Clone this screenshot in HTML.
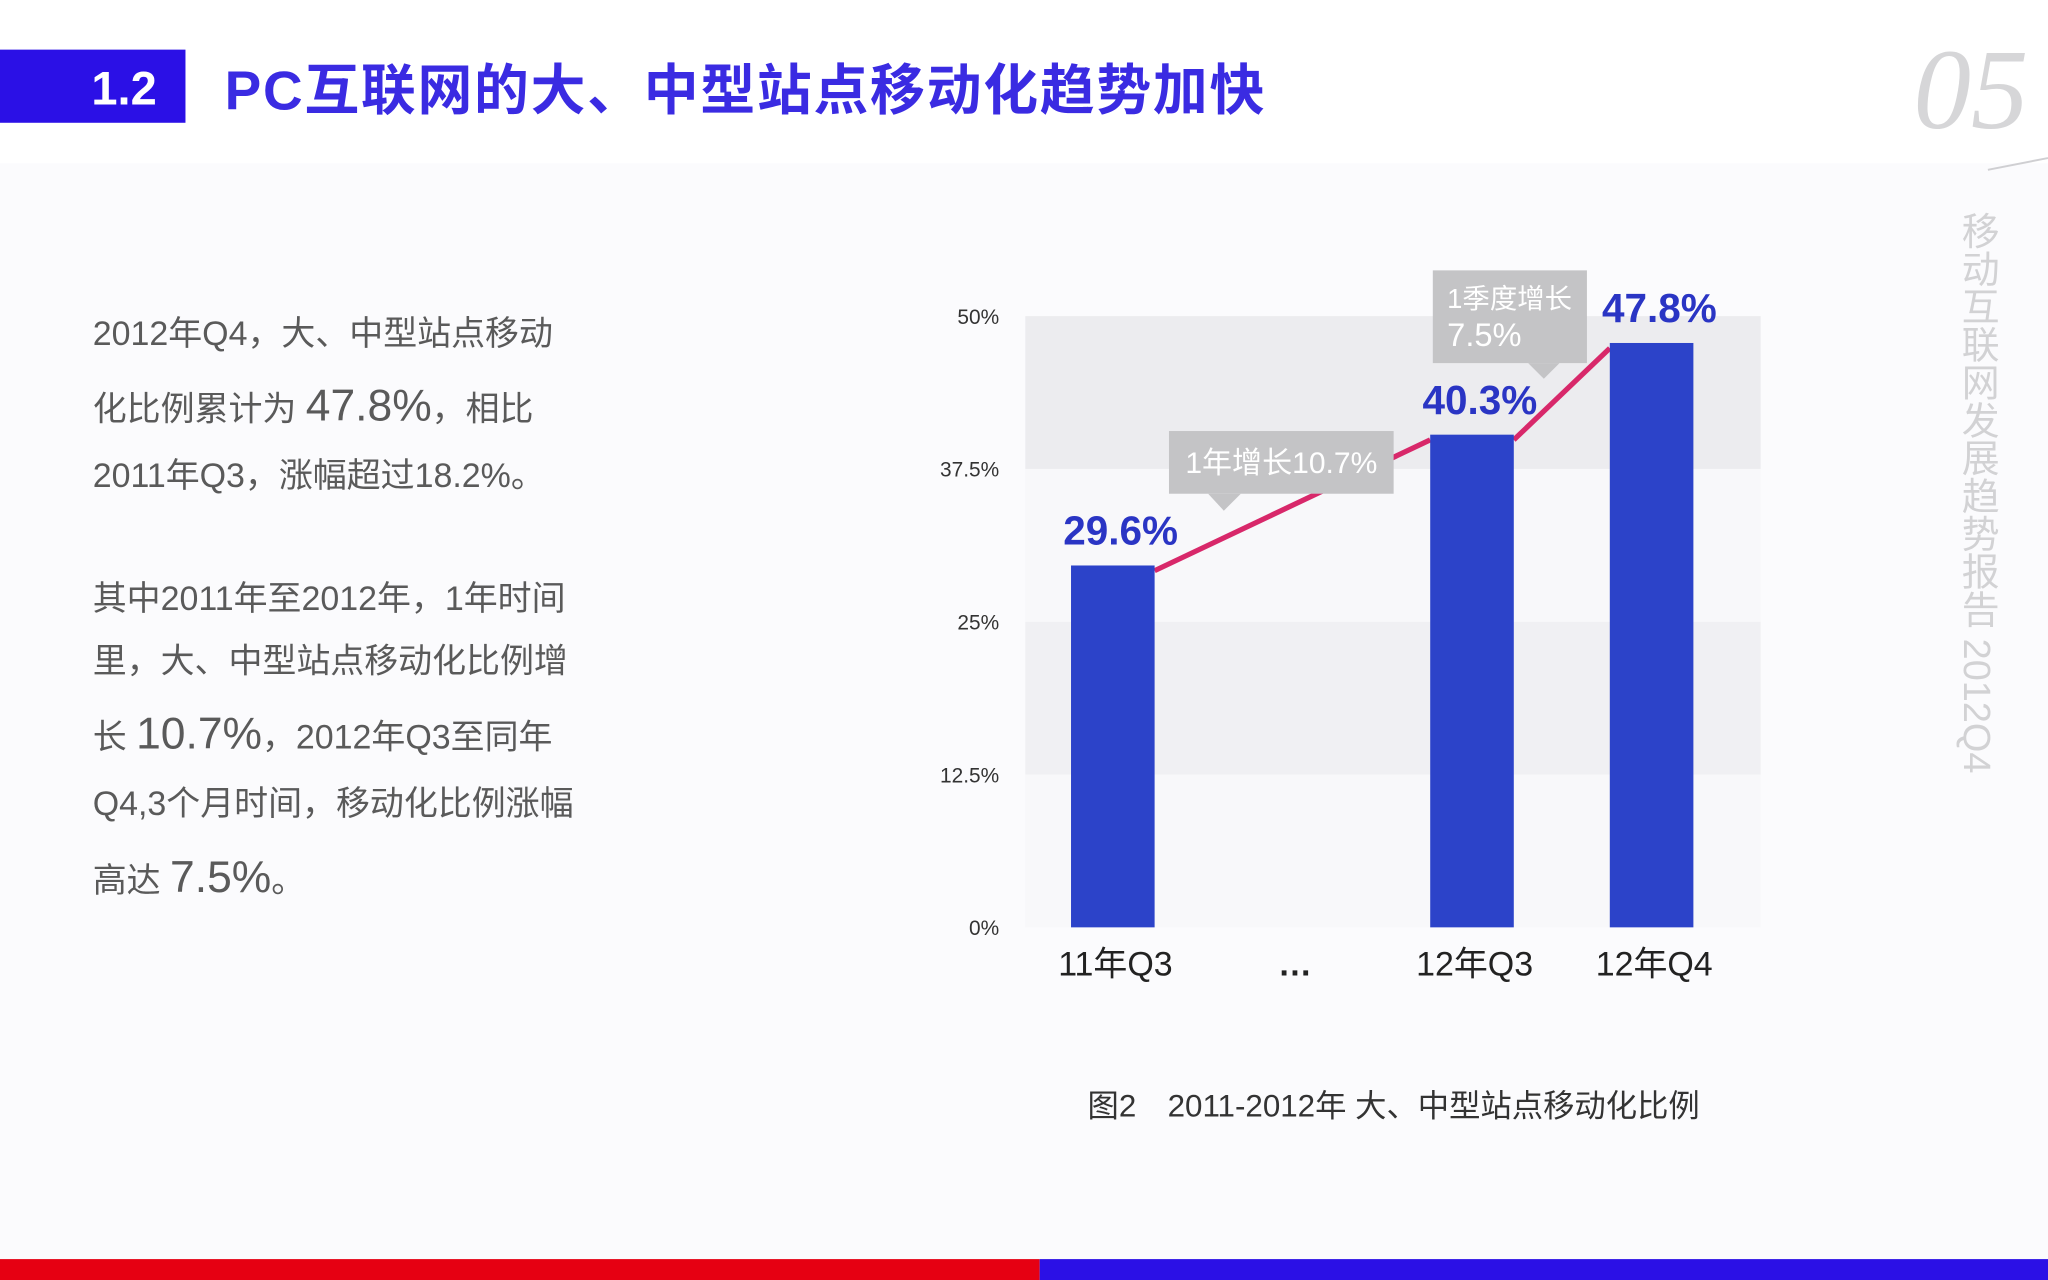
<!DOCTYPE html>
<html><head><meta charset="utf-8">
<style>
html,body{margin:0;padding:0;background:#fff;}
svg{display:block;}
text{font-family:"Liberation Sans","Noto Sans CJK SC",sans-serif;}
</style></head>
<body>
<svg id="root" width="2048" height="1280" viewBox="0 0 1568 980" xmlns="http://www.w3.org/2000/svg">
  <rect x="0" y="0" width="1568" height="980" fill="#ffffff"/>
  <rect x="0" y="125" width="1568" height="840" fill="#fbfbfd"/>
  <rect x="0" y="38" width="142" height="56" fill="#2b10e6"/>
  <text x="95" y="80" font-size="36" font-weight="bold" fill="#fff" text-anchor="middle">1.2</text>
  <text x="172" y="84" font-size="42" font-weight="bold" fill="#3a2be2" textLength="796">PC互联网的大、中型站点移动化趋势加快</text>
  <text x="1465" y="98" font-size="88" font-style="italic" fill="#d6d6d8" style="font-family:'Liberation Serif',serif">05</text>
  <line x1="1522" y1="130" x2="1568" y2="121" stroke="#cfcfd2" stroke-width="1.5"/>
  <text x="1513" y="162" font-size="29" fill="#d2d2d4" style="writing-mode:tb;glyph-orientation-vertical:0">移动互联网发展趋势报告 2012Q4</text>

  <g fill="#5a5a5a" font-size="26">
    <text x="71" y="264">2012年Q4，大、中型站点移动</text>
    <text x="71" y="322">化比例累计为 <tspan font-size="34">47.8%</tspan>，相比</text>
    <text x="71" y="373">2011年Q3，涨幅超过18.2%。</text>
    <text x="71" y="467">其中2011年至2012年，1年时间</text>
    <text x="71" y="515">里，大、中型站点移动化比例增</text>
    <text x="71" y="573">长 <tspan font-size="34">10.7%</tspan>，2012年Q3至同年</text>
    <text x="71" y="624">Q4,3个月时间，移动化比例涨幅</text>
    <text x="71" y="683">高达 <tspan font-size="34">7.5%</tspan>。</text>
  </g>

  <g id="chart"></g>

  <text x="1067" y="855" font-size="24" fill="#333" text-anchor="middle">图2　2011-2012年  大、中型站点移动化比例</text>
  <rect x="0" y="964" width="796" height="16" fill="#e60012"/>
  <rect x="796" y="964" width="772" height="16" fill="#2b10e6"/>
</svg>
<script>
const categories = ["11年Q3", "…", "12年Q3", "12年Q4"];
const values = [29.6, null, 40.3, 47.8];
const valueLabels = ["29.6%", "", "40.3%", "47.8%"];
const yTicks = [0, 12.5, 25, 37.5, 50];
const yTickLabels = ["0%", "12.5%", "25%", "37.5%", "50%"];
const callouts = ["1年增长10.7%", "1季度增长", "7.5%"];

const NS = "http://www.w3.org/2000/svg";
const g = document.getElementById("chart");
const plotL = 785, plotR = 1348, plotT = 242, plotB = 710, yMax = 50;
const y = v => plotB - v / yMax * (plotB - plotT);
const xc = i => 852 + i * 137.5;
const barW = 64;
function mk(tag, attrs, parent) {
  const e = document.createElementNS(NS, tag);
  for (const k in attrs) e.setAttribute(k, attrs[k]);
  (parent || g).appendChild(e);
  return e;
}
const bandFills = ["#f8f8fa", "#f0f0f3", "#f8f8fa", "#ececef"];
for (let i = 0; i < yTicks.length - 1; i++) {
  const r = mk("rect", {x: plotL, y: y(yTicks[i + 1]), width: plotR - plotL, height: y(yTicks[i]) - y(yTicks[i + 1]), fill: bandFills[i]});
  
  
}
yTicks.forEach((t, i) => {
  const tx = mk("text", {x: 765, y: y(t) + 6, "font-size": 16, fill: "#333", "text-anchor": "end"});
  tx.textContent = yTickLabels[i];
  
  
});
const pts = [];
values.forEach((v, i) => { if (v != null) pts.push(i); });
for (let k = 0; k < pts.length - 1; k++) {
  const a = pts[k], b = pts[k + 1];
  const ln = mk("line", {x1: xc(a) + barW / 2, y1: y(values[a]) + 4, x2: xc(b) - barW / 2, y2: y(values[b]) + 4, stroke: "#d8286a", "stroke-width": 4});
  
  
}
values.forEach((v, i) => {
  if (v != null) {
    const b = mk("rect", {x: xc(i) - barW / 2, y: y(v), width: barW, height: plotB - y(v), fill: "#2c43c9"});
    
    
    const t = mk("text", {x: xc(i) + 6, y: y(v) - 16, "font-size": 31, "font-weight": "bold", fill: "#2a35c4", "text-anchor": "middle"});
    t.textContent = valueLabels[i];
    
    
  }
  const c = mk("text", {x: xc(i) + 2, y: 747, "font-size": 26, fill: "#222", "text-anchor": "middle", "font-weight": categories[i] === "…" ? "bold" : "normal"});
  c.textContent = categories[i];
  
  
});
const c1 = mk("g", {});


mk("rect", {x: 895, y: 330, width: 172, height: 48, fill: "#c4c4c6"}, c1);
mk("polygon", {points: "925,378 950,378 937,391", fill: "#c4c4c6"}, c1);
const t1 = mk("text", {x: 981, y: 362, "font-size": 23, fill: "#fff", "text-anchor": "middle"}, c1);
t1.textContent = callouts[0];
const c2 = mk("g", {});


mk("rect", {x: 1097, y: 207, width: 118, height: 71, fill: "#c4c4c6"}, c2);
mk("polygon", {points: "1170,278 1194,278 1182,290", fill: "#c4c4c6"}, c2);
const t2 = mk("text", {x: 1108, y: 236, "font-size": 21, fill: "#fff"}, c2);
t2.textContent = callouts[1];
const t3 = mk("text", {x: 1108, y: 265, "font-size": 25, fill: "#fff"}, c2);
t3.textContent = callouts[2];
</script>
</body></html>
